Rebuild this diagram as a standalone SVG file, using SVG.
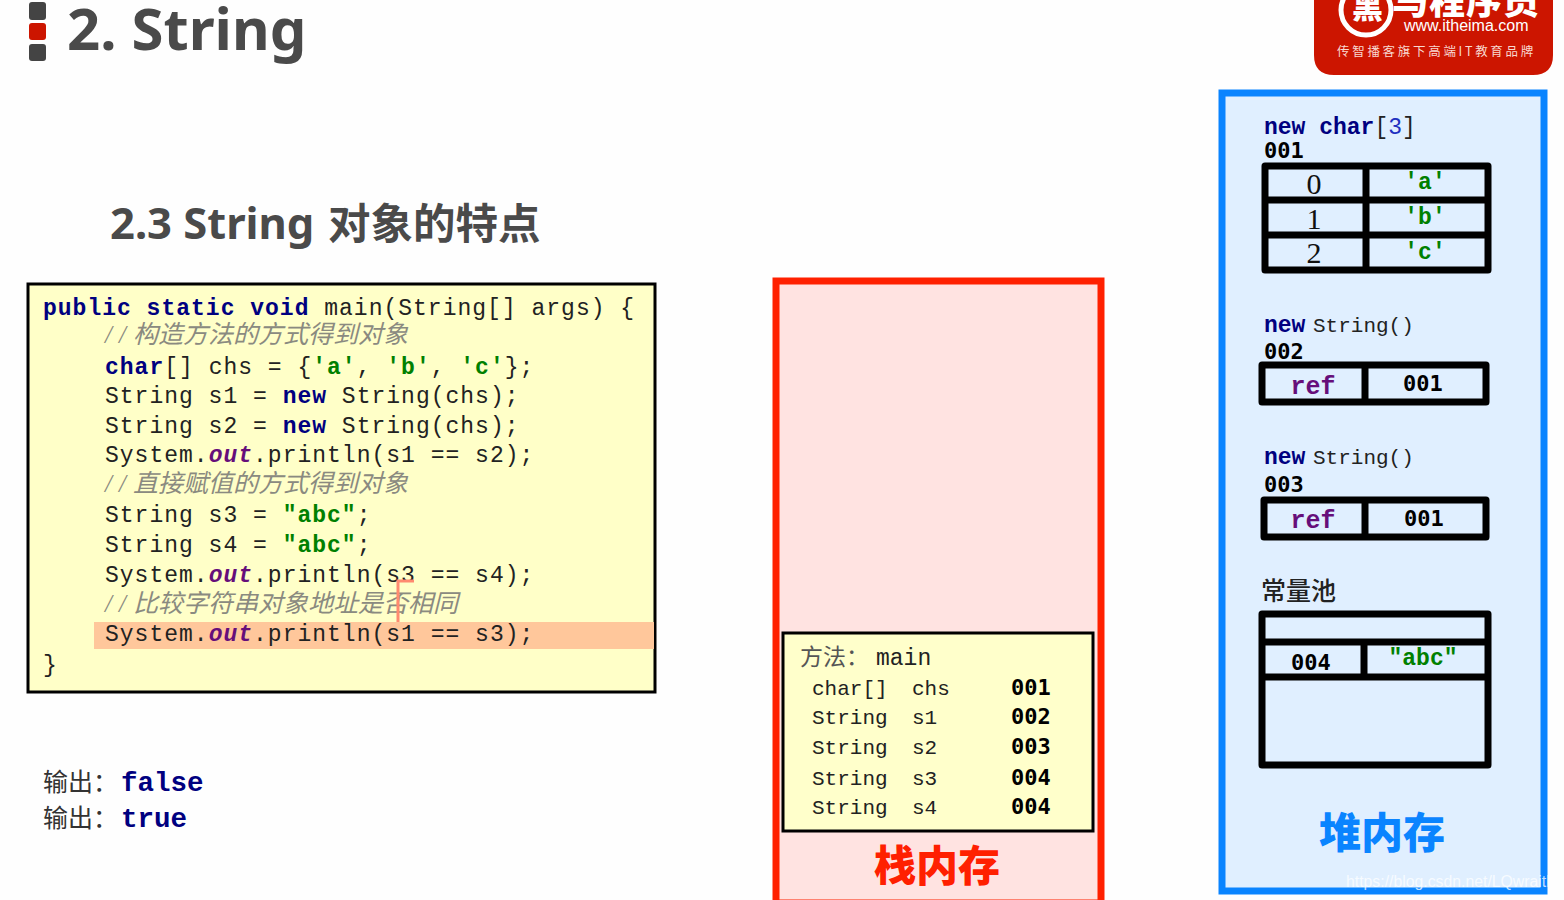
<svg xmlns="http://www.w3.org/2000/svg" width="1564" height="900" viewBox="0 0 1564 900">
<style>
text{white-space:pre}
.h{font-family:"Noto Sans","Noto Sans CJK SC",sans-serif;font-weight:700;fill:#4a4a4a}
.c{font-family:"Liberation Mono","Noto Sans CJK SC",monospace;font-size:23px;letter-spacing:1px;fill:#222}
.k{font-weight:700;fill:#000080}
.o{font-weight:700;font-style:italic;fill:#660e7a}
.s{font-weight:700;fill:#008000}
.m{font-family:"Liberation Serif","Noto Sans CJK SC",serif;font-style:italic;font-size:25px;fill:#8a8a80}
.sl{letter-spacing:7px}
.a{font-family:"DejaVu Sans Mono",monospace;font-weight:700;font-size:22px;fill:#000}
.v{font-family:"Liberation Mono","Noto Sans CJK SC",monospace;font-size:21px;fill:#222}
.main{font-size:23px}
.box{fill:none;stroke:#000;stroke-width:7;stroke-linejoin:round}
.ln{stroke:#000;stroke-width:7}
.idx{font-family:"Liberation Serif",serif;font-size:30px;fill:#111;text-anchor:middle}
.ch{font-family:"Liberation Mono",monospace;font-weight:700;font-size:23px;fill:#008000;text-anchor:middle}
.ref{font-family:"Liberation Mono",monospace;font-size:25px;fill:#660e7a;font-weight:700;text-anchor:middle}
.nw{font-family:"Liberation Mono",monospace;font-size:23px}
.big{font-family:"Noto Sans CJK SC",sans-serif;font-weight:900;font-size:42px;text-anchor:middle}
</style>
<rect width="1564" height="900" fill="#fefefe"/>
<g id="title">
<rect x="29" y="2" width="17" height="18" rx="3" fill="#444"/>
<rect x="29" y="23" width="17" height="17" rx="3" fill="#cc1500"/>
<rect x="29" y="44" width="17" height="17" rx="3" fill="#444"/>
<text class="h" x="67" y="50" font-size="58">2. String</text>
<text class="h" x="110" y="239" font-size="43.5">2.3 String</text>
<text class="h" x="328" y="239" font-family="Noto Sans CJK SC" font-size="42.5">对象的特点</text>
</g>
<g id="logo">
<path d="M1314 0H1553V55Q1553 75 1533 75H1334Q1314 75 1314 55Z" fill="#cc1500"/>
<circle cx="1366" cy="10" r="25" fill="none" stroke="#fff" stroke-width="5"/>
<text x="1352" y="18" font-family="Noto Sans CJK SC" font-weight="900" font-size="31" fill="#fff">黑</text>
<text x="1392" y="14" font-family="Noto Sans CJK SC" font-weight="900" font-size="36" fill="#fff" letter-spacing="1">马程序员</text>
<text x="1404" y="31" font-family="Liberation Sans" font-size="16" fill="#fff">www.itheima.com</text>
<text x="1337" y="56" font-family="Noto Sans CJK SC" font-size="12.5" fill="#f8d8d0" letter-spacing="2.7">传智播客旗下高端IT教育品牌</text>
</g>
<g id="code">
<rect x="28" y="284" width="627" height="408" fill="#ffffc8" stroke="#000" stroke-width="3"/>
<rect x="94" y="622" width="560" height="27" fill="#ffc79b"/>
<text class="c" x="43" y="315"><tspan class="k">public static void</tspan> main(String[] args) {</text>
<text class="m" x="105" y="343"><tspan class="sl">//</tspan>构造方法的方式得到对象</text>
<text class="c" x="105" y="374"><tspan class="k">char</tspan>[] chs = {<tspan class="s">'a'</tspan>, <tspan class="s">'b'</tspan>, <tspan class="s">'c'</tspan>};</text>
<text class="c" x="105" y="403">String s1 = <tspan class="k">new</tspan> String(chs);</text>
<text class="c" x="105" y="433">String s2 = <tspan class="k">new</tspan> String(chs);</text>
<text class="c" x="105" y="462">System.<tspan class="o">out</tspan>.println(s1 == s2);</text>
<text class="m" x="105" y="492"><tspan class="sl">//</tspan>直接赋值的方式得到对象</text>
<text class="c" x="105" y="522">String s3 = <tspan class="s">"abc"</tspan>;</text>
<text class="c" x="105" y="552">String s4 = <tspan class="s">"abc"</tspan>;</text>
<text class="c" x="105" y="582">System.<tspan class="o">out</tspan>.println(s3 == s4);</text>
<text class="m" x="105" y="612"><tspan class="sl">//</tspan>比较字符串对象地址是否相同</text>
<text class="c" x="105" y="641">System.<tspan class="o">out</tspan>.println(s1 == s3);</text>
<text class="c" x="43" y="672">}</text>
<path d="M398 622V581H414" fill="none" stroke="#ff8a70" stroke-width="3"/>
</g>
<g id="output">
<text x="43" y="791" font-family="Noto Sans CJK SC" font-size="25" fill="#333">输出：</text>
<text x="121" y="791" font-family="Liberation Mono" font-weight="700" font-size="27.5" fill="#000080">false</text>
<text x="43" y="827" font-family="Noto Sans CJK SC" font-size="25" fill="#333">输出：</text>
<text x="121" y="827" font-family="Liberation Mono" font-weight="700" font-size="27.5" fill="#000080">true</text>
</g>
<g id="stack">
<rect x="776" y="281" width="325" height="622" fill="#ffe3e1" stroke="#ff2000" stroke-width="7"/>
<rect x="783" y="633" width="310" height="198" fill="#ffffcb" stroke="#000" stroke-width="3"/>
<text x="800" y="665" font-family="Noto Sans CJK SC" font-size="23" fill="#555">方法：</text>
<text x="876" y="665" class="v main">main</text>
<text class="v" x="812" y="695">char[]</text><text class="v" x="912" y="695">chs</text><text class="a" x="1011" y="695">001</text>
<text class="v" x="812" y="724">String</text><text class="v" x="912" y="724">s1</text><text class="a" x="1011" y="724">002</text>
<text class="v" x="812" y="754">String</text><text class="v" x="912" y="754">s2</text><text class="a" x="1011" y="754">003</text>
<text class="v" x="812" y="785">String</text><text class="v" x="912" y="785">s3</text><text class="a" x="1011" y="785">004</text>
<text class="v" x="812" y="814">String</text><text class="v" x="912" y="814">s4</text><text class="a" x="1011" y="814">004</text>
<text class="big" x="937" y="881" fill="#ff2000">栈内存</text>
</g>
<g id="heap">
<rect x="1222" y="93" width="322" height="798" fill="#e0efff" stroke="#0a84ff" stroke-width="7"/>
<text class="nw" x="1264" y="134"><tspan class="k">new char</tspan><tspan fill="#222">[</tspan><tspan fill="#2030c0">3</tspan><tspan fill="#222">]</tspan></text>
<text class="a" x="1264" y="158">001</text>
</g>
<g id="array">
<rect x="1265" y="166" width="223" height="104" class="box"/>
<path class="ln" d="M1265 200H1488M1265 235H1488M1366 166V270"/>
<text class="idx" x="1314" y="194">0</text><text class="ch" x="1425" y="189">'a'</text>
<text class="idx" x="1314" y="229">1</text><text class="ch" x="1425" y="224">'b'</text>
<text class="idx" x="1314" y="263">2</text><text class="ch" x="1425" y="259">'c'</text>
</g>
<g id="string002">
<text class="nw" x="1264" y="332"><tspan class="k">new</tspan></text><text class="v" x="1313" y="332">String()</text>
<text class="a" x="1264" y="359">002</text>
<rect x="1262" y="365" width="224" height="37" class="box"/>
<path class="ln" d="M1365 365V402"/>
<text class="ref" x="1313" y="394">ref</text><text class="a" x="1403" y="391">001</text>
</g>
<g id="string003">
<text class="nw" x="1264" y="464"><tspan class="k">new</tspan></text><text class="v" x="1313" y="464">String()</text>
<text class="a" x="1264" y="492">003</text>
<rect x="1264" y="500" width="222" height="37" class="box"/>
<path class="ln" d="M1365 500V537"/>
<text class="ref" x="1313" y="528">ref</text><text class="a" x="1404" y="526">001</text>
</g>
<g id="pool">
<text x="1261" y="600" font-family="Noto Sans CJK SC" font-size="25" fill="#222" font-weight="500">常量池</text>
<rect x="1262" y="614" width="226" height="151" class="box"/>
<path class="ln" d="M1262 642H1488M1262 677H1488M1364 642V677"/>
<text class="a" x="1291" y="670">004</text>
<text class="ch" x="1423" y="665">"abc"</text>
</g>
<text class="big" x="1382" y="848" fill="#0a84ff">堆内存</text>
<text x="1346" y="887" font-family="Liberation Sans" font-size="15.8" fill="#fff" fill-opacity=".75">https://blog.csdn.net/LQwraith</text>
</svg>
